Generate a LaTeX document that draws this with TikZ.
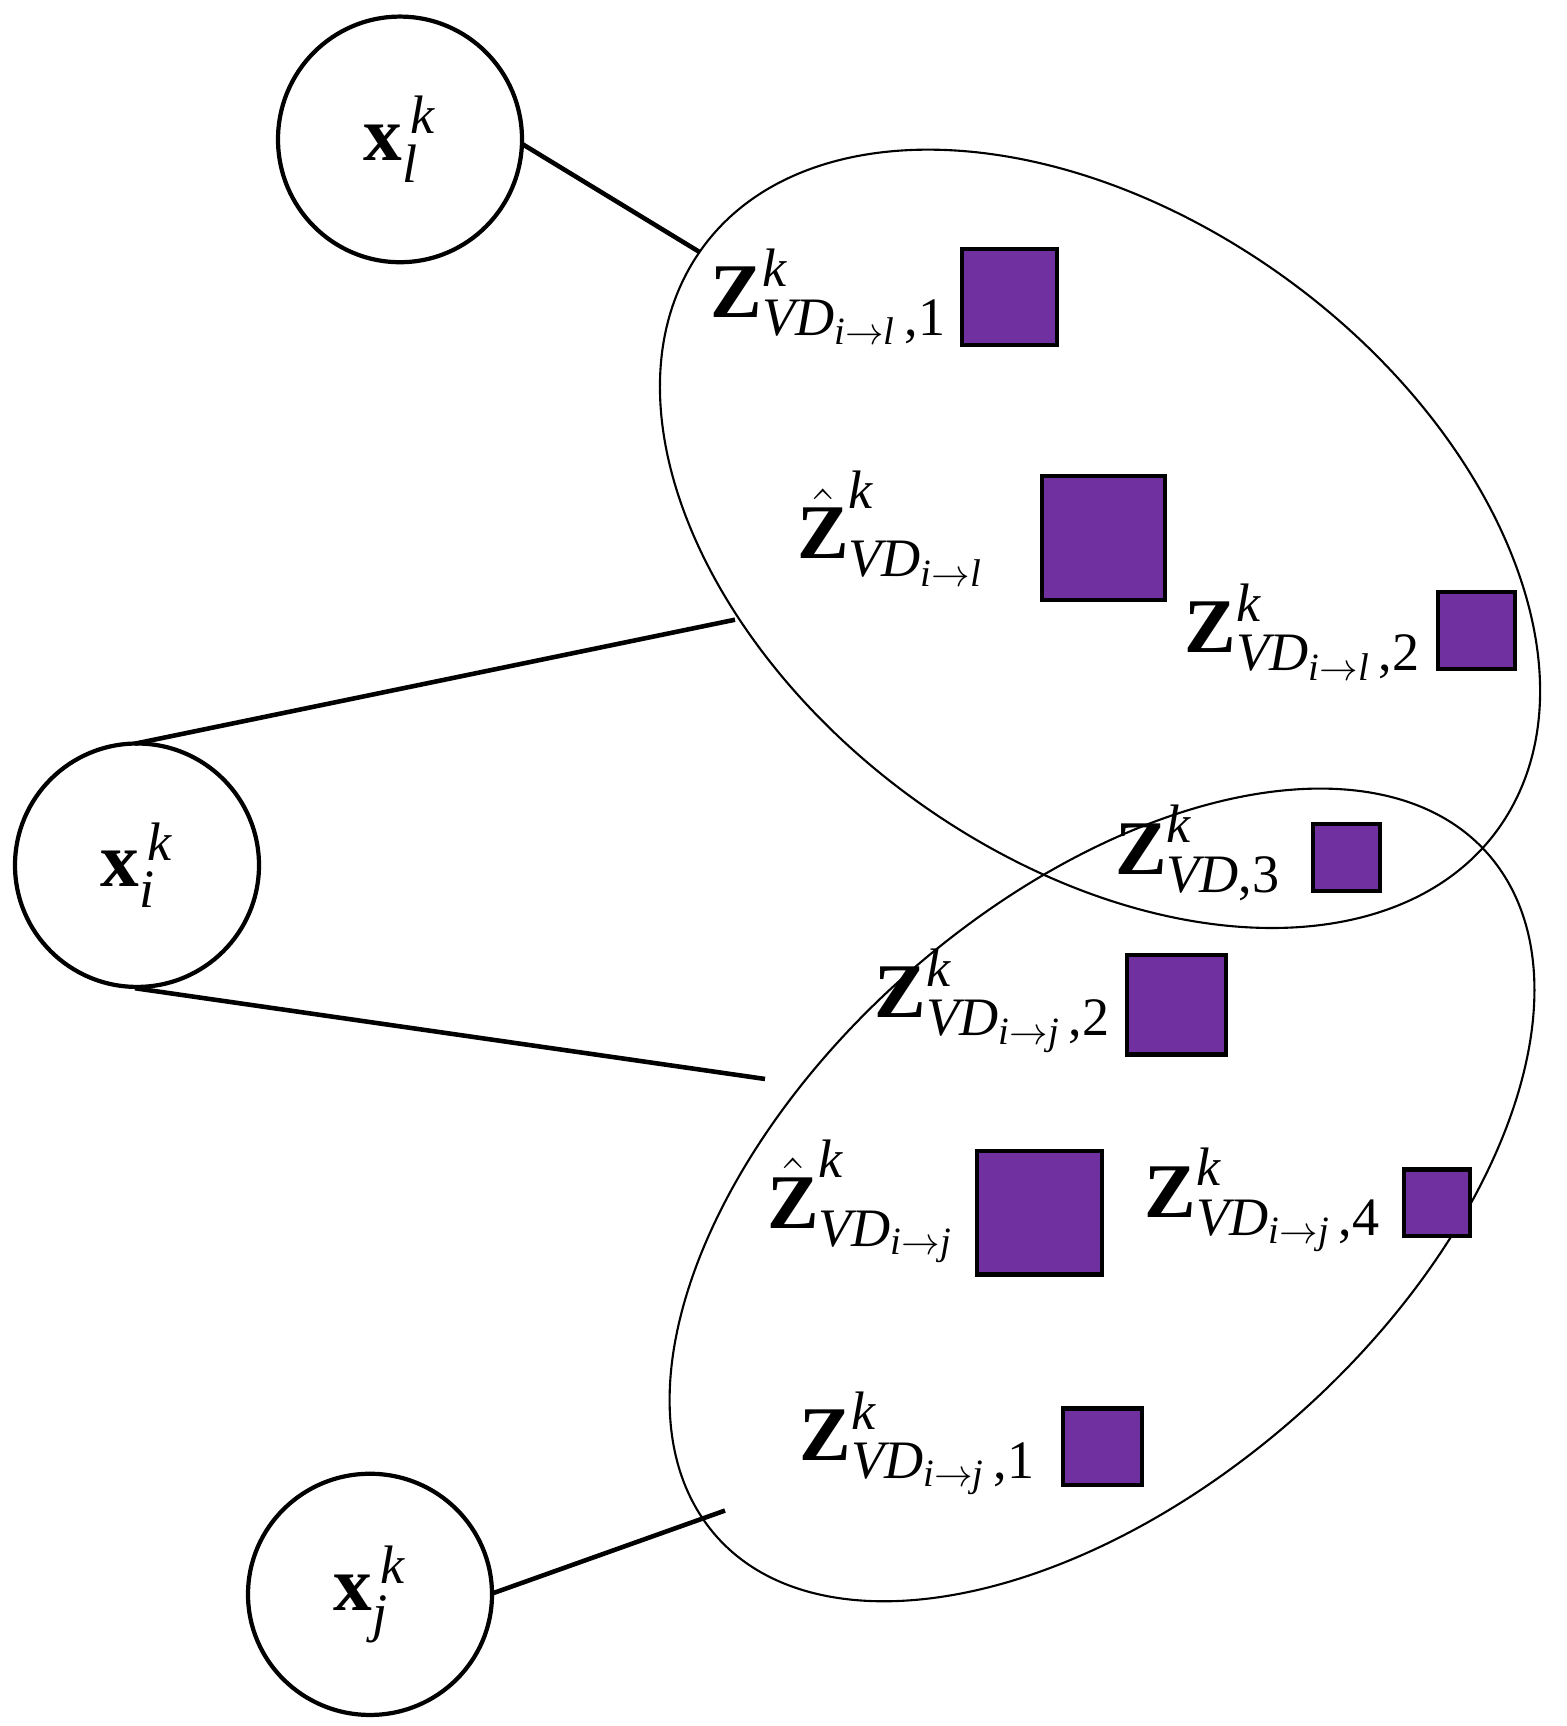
\documentclass[tikz,border=0pt]{standalone}
\usepackage{amsmath}
\usepackage{fontspec}
\setmainfont{Liberation Serif}
\newcommand{\tb}[1]{\textbf{#1}}
\newcommand{\ti}[1]{\textit{#1}}
\begin{document}
\begin{tikzpicture}[x=0.01cm,y=-0.01cm,yscale=1.1064,
  sq/.style={draw,line width=1.2pt,fill=purp},
  lb/.style={anchor=base east,inner sep=0,font=\fontsize{22}{26}\selectfont},
  xl/.style={anchor=center,font=\fontsize{22}{26}\selectfont},
  ln/.style={line width=1.3pt}]
\definecolor{purp}{HTML}{7030A0}
\useasboundingbox (0,0) rectangle (1566,1560);
% circles
\draw[line width=1.2pt] (400,126) ellipse [x radius=122,y radius=111];
\draw[line width=1.2pt] (137,782) ellipse [x radius=122,y radius=110];
\draw[line width=1.2pt] (370,1441) ellipse [x radius=122,y radius=109];
\node[xl] (nl) at (400,126) {$\tb{x}_{\ti{l}}^{\,\ti{k}}$};
\node[xl] (ni) at (137,782) {$\tb{x}_{\ti{i}}^{\,\ti{k}}$};
\node[xl] (nj) at (370,1441) {$\tb{x}_{\ti{j}}^{\,\ti{k}}$};
\coordinate (cl) at (522,130);
\coordinate (cit) at (135,672);
\coordinate (cib) at (135,893);
\coordinate (cj) at (492,1440);
% groups
\draw[line width=0.6pt] (1100,487) ellipse [x radius=478,y radius=298,rotate=-30];
\draw[line width=0.6pt] (1102,1080) ellipse [x radius=495,y radius=277,rotate=36];
\coordinate (el) at (700,228);
\coordinate (eit) at (735,560);
\coordinate (eib) at (765,975);
\coordinate (ej) at (725,1365);
\draw[ln] (cl) -- (el);
\draw[ln] (cit) -- (eit);
\draw[ln] (cib) -- (eib);
\draw[ln] (cj) -- (ej);
% squares
\draw[sq] (962,225) rectangle (1057,312);
\draw[sq] (1042,430) rectangle (1165,542);
\draw[sq] (1438,535) rectangle (1515,605);
\draw[sq] (1313,745) rectangle (1380,805);
\draw[sq] (1127,863) rectangle (1226,953);
\draw[sq] (977,1040) rectangle (1102,1152);
\draw[sq] (1404,1057) rectangle (1470,1117);
\draw[sq] (1063,1273) rectangle (1142,1342);
% labels
\node[lb] (t1) at (948,287) {$\tb{Z}^{\ti{k}}_{\ti{VD}_{\ti{i}\rightarrow\ti{l}}\,\text{,1}}$};
\node[lb] (t2) at (985,505) {$\hat{\tb{Z}}^{\ti{k}}_{\ti{VD}_{\ti{i}\rightarrow\ti{l}}}$};
\node[lb] (t3) at (1422,590) {$\tb{Z}^{\ti{k}}_{\ti{VD}_{\ti{i}\rightarrow\ti{l}}\,\text{,2}}$};
\node[lb] (t4) at (1282,790) {$\tb{Z}^{\ti{k}}_{\ti{VD}\text{,3}}$};
\node[lb] (t5) at (1112,920) {$\tb{Z}^{\ti{k}}_{\ti{VD}_{\ti{i}\rightarrow\ti{j}}\,\text{,2}}$};
\node[lb] (t6) at (955,1110) {$\hat{\tb{Z}}^{\ti{k}}_{\ti{VD}_{\ti{i}\rightarrow\ti{j}}}$};
\node[lb] (t7) at (1382,1100) {$\tb{Z}^{\ti{k}}_{\ti{VD}_{\ti{i}\rightarrow\ti{j}}\,\text{,4}}$};
\node[lb] (t8) at (1037,1320) {$\tb{Z}^{\ti{k}}_{\ti{VD}_{\ti{i}\rightarrow\ti{j}}\,\text{,1}}$};
\end{tikzpicture}
\end{document}
